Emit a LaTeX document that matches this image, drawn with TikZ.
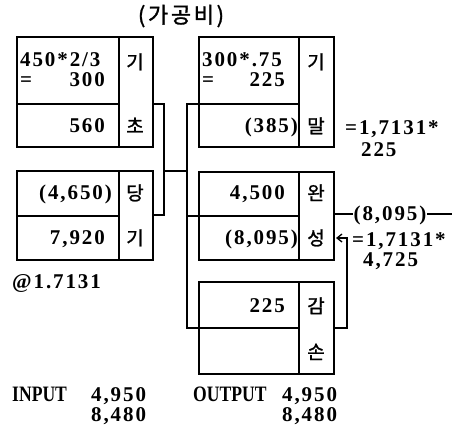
\documentclass[tikz,border=0pt]{standalone}
\usepackage{fontspec}
\setmainfont{Liberation Serif}
\newfontfamily\numf[LetterSpace=9]{Liberation Serif}
\newfontfamily\lblf[FakeStretch=0.8]{Liberation Serif}
\newfontfamily\kof[FakeBold=1.3]{Noto Sans CJK KR}
\newfontfamily\kohead[LetterSpace=12,FakeBold=1.3]{Noto Sans CJK KR}
\usetikzlibrary{arrows.meta}
\begin{document}
\begin{tikzpicture}[x=1pt,y=-1pt,
  box/.style={draw,line width=1.3pt,inner sep=0pt,outer sep=0pt,anchor=north west},
  ln/.style={line width=1.3pt},
  num/.style={font=\numf\bfseries\fontsize{21}{21}\selectfont,inner sep=0pt,text height=13.5pt,text depth=0pt},
  lbl/.style={font=\lblf\bfseries\fontsize{22}{22}\selectfont,inner sep=0pt,text height=13.5pt,text depth=0pt},
  ko/.style={font=\kof\fontsize{19}{19}\selectfont,inner sep=0pt,text height=15pt,text depth=1pt},
  head/.style={font=\kohead\fontsize{22}{22}\selectfont,inner sep=0pt},
]
\useasboundingbox (0,0) rectangle (452,432);
% boxes
\node[box,minimum width=136pt,minimum height=110pt] (A) at (17,37) {};
\node[box,minimum width=136pt,minimum height=89pt] (B) at (17,171) {};
\node[box,minimum width=135pt,minimum height=110pt] (C) at (199,37) {};
\node[box,minimum width=135pt,minimum height=88pt] (D) at (199,172) {};
\node[box,minimum width=135pt,minimum height=92pt] (E) at (199,282) {};
% dividers
\draw[ln] (119,37) -- (119,147) (17,104) -- (119,104);
\draw[ln] (119,171) -- (119,260) (17,216) -- (119,216);
\draw[ln] (299,37) -- (299,147) (199,104) -- (299,104);
\draw[ln] (299,172) -- (299,260) (199,216) -- (299,216);
\draw[ln] (299,282) -- (299,374) (199,328) -- (299,328);
% connector points
\coordinate (a1) at (153,104);
\coordinate (a2) at (164,104);
\coordinate (b2) at (164,215);
\coordinate (b1) at (153,215);
\coordinate (m1) at (164,171);
\coordinate (m2) at (187,171);
\coordinate (c1) at (199,104);
\coordinate (c2) at (187,104);
\coordinate (e2) at (187,328);
\coordinate (e1) at (199,328);
\coordinate (d2) at (187,216);
\coordinate (d1) at (199,216);
\coordinate (r1) at (334,328);
\coordinate (r2) at (347,328);
\coordinate (r3) at (347,238);
\coordinate (r4) at (336,238);
\coordinate (s1) at (334,214);
\coordinate (s2) at (452,214);
% connectors
\draw[ln] (a1) -- (a2) -- (b2) -- (b1);
\draw[ln] (m1) -- (m2);
\draw[ln] (c1) -- (c2) -- (e2) -- (e1);
\draw[ln] (d2) -- (d1);
\draw[ln,-{Straight Barb[length=5pt,width=8pt]}] (r1) -- (r2) -- (r3) -- (r4);
% header
\node[head] (h) at (181,16) {(가공비)};
% left texts
\node[num,anchor=west] (t1) at (20,60) {450*2/3};
\node[num,anchor=west] (t2) at (20,80) {=};
\node[num,anchor=east] (t3) at (105,80) {300};
\node[num,anchor=east] (t4) at (105,126) {560};
\node[ko] (k1) at (135,62) {기};
\node[ko] (k2) at (135,126) {초};
\node[num,anchor=east] (t5) at (112,193) {(4,650)};
\node[num,anchor=east] (t6) at (105,238) {7,920};
\node[ko] (k3) at (135,193) {당};
\node[ko] (k4) at (135,238) {기};
\node[num,anchor=west] (t7) at (12,282) {@1.7131};
% right boxes texts
\node[num,anchor=west] (u1) at (202,60) {300*.75};
\node[num,anchor=west] (u2) at (202,80) {=};
\node[num,anchor=east] (u3) at (285,80) {225};
\node[num,anchor=east] (u4) at (298,126) {(385)};
\node[ko] (k5) at (316,62) {기};
\node[ko] (k6) at (316,126) {말};
\node[num,anchor=east] (u5) at (285,193) {4,500};
\node[num,anchor=east] (u6) at (298,238) {(8,095)};
\node[ko] (k7) at (316,193) {완};
\node[ko] (k8) at (316,238) {성};
\node[num,anchor=east] (u7) at (285,306) {225};
\node[ko] (k9) at (316,306) {감};
\node[ko] (k10) at (316,352) {손};
% side notes
\node[num,anchor=west] (v1) at (345,128) {=1,7131*};
\node[num,anchor=west] (v2) at (361,150) {225};
\node[num,inner xsep=1pt] (v3) at (390,214) {(8,095)};
\node[num,anchor=west] (v4) at (352,240) {=1,7131*};
\node[num,anchor=west] (v5) at (363,260) {4,725};
% bottom
\node[lbl,anchor=west] (w1) at (12,395) {INPUT};
\node[num,anchor=west] (w2) at (91,395) {4,950};
\node[num,anchor=west] (w3) at (91,415) {8,480};
\node[lbl,anchor=west] (w4) at (193,395) {OUTPUT};
\node[num,anchor=west] (w5) at (282,395) {4,950};
\node[num,anchor=west] (w6) at (282,415) {8,480};
\draw[ln] (s1) -- (v3.west) (v3.east) -- (s2);
\end{tikzpicture}
\end{document}
